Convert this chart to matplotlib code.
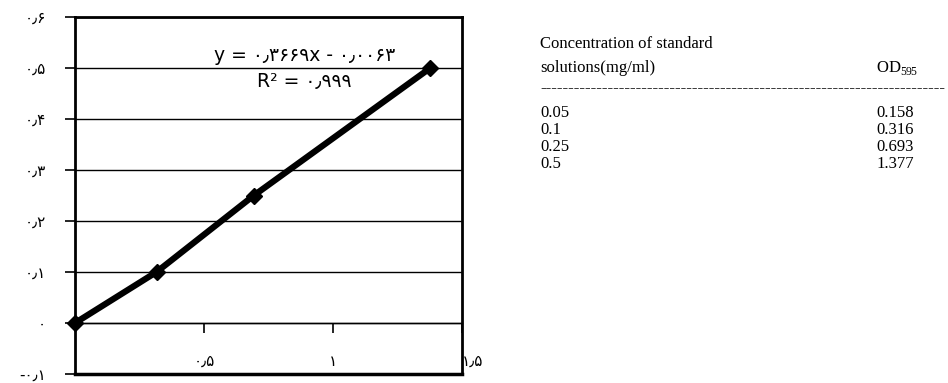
import matplotlib
matplotlib.use('Agg')
import matplotlib.pyplot as plt

plt.rcParams['mathtext.fontset'] = 'custom'
plt.rcParams['mathtext.rm'] = 'Liberation Serif'

# standard curve points (OD595 vs concentration)
od_points = [0.0, 0.316, 0.693, 1.377]
conc_points = [0.0, 0.1, 0.25, 0.5]

# table on the right
table_conc = ['0.05', '0.1', '0.25', '0.5']
table_od = ['0.158', '0.316', '0.693', '1.377']

y_ticks = [-0.1, 0.0, 0.1, 0.2, 0.3, 0.4, 0.5, 0.6]
y_labels = ['-۰٫۱', '۰', '۰٫۱', '۰٫۲', '۰٫۳', '۰٫۴', '۰٫۵', '۰٫۶']
x_ticks = [0.5, 1.0, 1.5]
x_labels = ['۰٫۵', '۱', '۱٫۵']

eq_text = 'y = ۰٫۳۶۶۹x - ۰٫۰۰۶۳'
r2_text = 'R² = ۰٫۹۹۹'

fig = plt.figure(figsize=(9.48, 3.83), dpi=100)
ax = fig.add_axes([0.0791, 0.0235, 0.4082, 0.932])

ax.set_xlim(0, 1.5)
ax.set_ylim(-0.1, 0.6)

for y in y_ticks[1:]:
    ax.axhline(y, color='black', lw=1.0, zorder=1)

ax.plot(od_points, conc_points, color='black', lw=4.5, marker='D',
        markersize=8, zorder=3, clip_on=False)

# x axis crosses at y = 0
ax.spines['bottom'].set_position(('data', 0))
ax.spines['bottom'].set_linewidth(1.0)
for side in ['left', 'right']:
    ax.spines[side].set_linewidth(2.0)
ax.spines['top'].set_linewidth(2.0)
ax.axhline(-0.1, color='black', lw=2.5, clip_on=False, zorder=4)

ax.set_xticks(x_ticks)
ax.set_xticklabels(x_labels, fontsize=11, family='DejaVu Sans')
ax.tick_params(axis='x', direction='out', length=7, width=1.2, pad=15)
ax.set_yticks(y_ticks)
ax.set_yticklabels(y_labels, fontsize=11, family='DejaVu Sans')
ax.tick_params(axis='y', direction='out', length=7, width=1.2, pad=14)
labs = ax.get_xticklabels()
labs[-1].set_horizontalalignment('left')

ax.text(0.89, 0.524, eq_text, ha='center', va='center', fontsize=13.5)
ax.text(0.89, 0.474, r2_text, ha='center', va='center', fontsize=13.5)

# table text
serif = 'Liberation Serif'
fs = 12
fig.text(540 / 948, 1 - 44 / 383, 'Concentration of standard', fontsize=fs,
         family=serif, va='center')
fig.text(540 / 948, 1 - 68 / 383, 'solutions(mg/ml)', fontsize=fs,
         family=serif, va='center')
fig.text(876 / 948, 1 - 68 / 383, r'OD$_{595}$', fontsize=fs,
         family=serif, va='center')
fig.text(540 / 948, 1 - 88 / 383, '-' * 72, fontsize=fs, family=serif,
         va='center')
for i, (c, o) in enumerate(zip(table_conc, table_od)):
    yy = 1 - (113 + 17 * i) / 383
    fig.text(540 / 948, yy, c, fontsize=fs, family=serif, va='center')
    fig.text(876 / 948, yy, o, fontsize=fs, family=serif, va='center')

fig.savefig('out.png', dpi=100)
